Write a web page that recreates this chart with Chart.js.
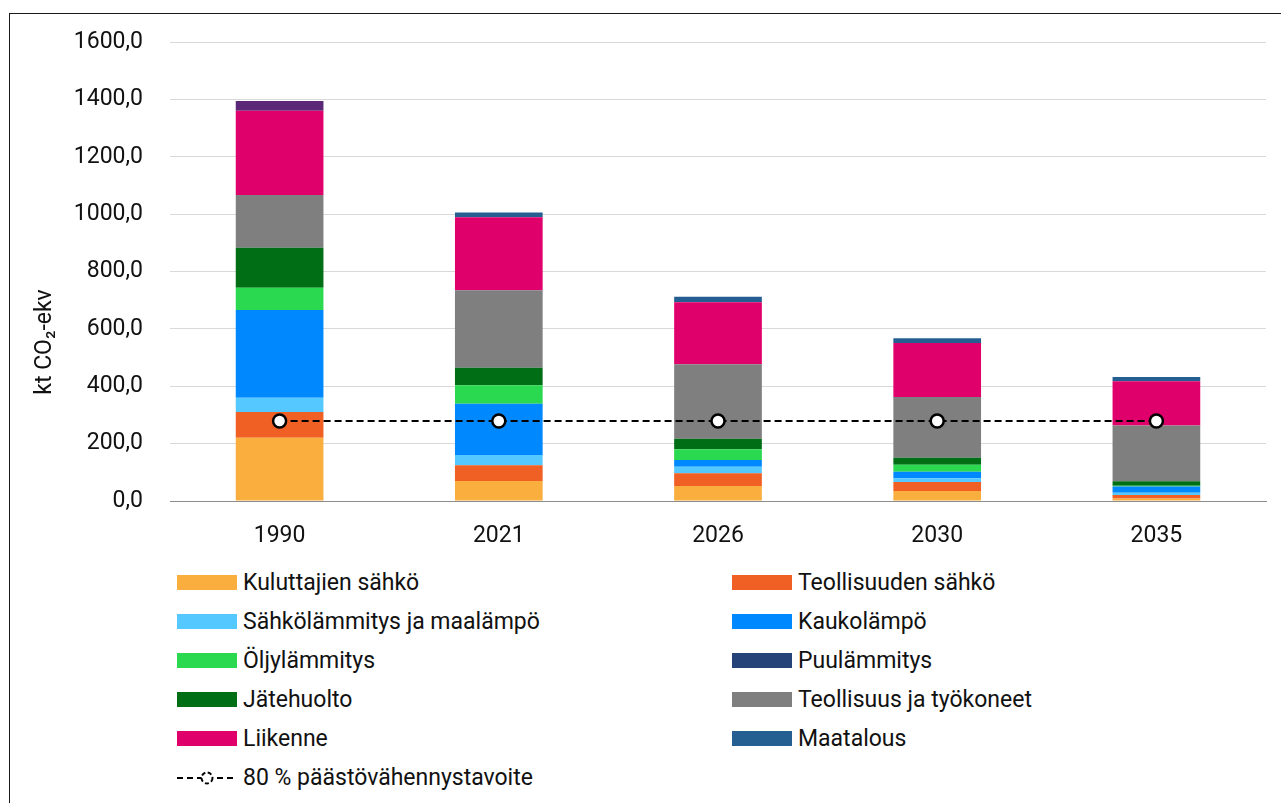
<!DOCTYPE html>
<html lang="fi">
<head>
<meta charset="utf-8">
<title>Päästöt</title>
<script src="https://cdn.jsdelivr.net/npm/chart.js@4/dist/chart.umd.min.js"></script>
<style>
  html, body { margin: 0; padding: 0; background: #fff; overflow: hidden; }
  body { width: 1281px; height: 803px; position: relative; font-family: Roboto, sans-serif; }
  .frame { position: absolute; left: 9px; top: 13px; width: 1300px; height: 900px; border: 1px solid #1a1a1a; }
  .chart-box { position: absolute; left: 10px; top: 14px; width: 1270px; height: 538px; }
  #legend { position: absolute; left: 177px; top: 563px; display: grid; grid-template-columns: 555px 500px; }
  .item { display: flex; align-items: center; height: 39px; font-size: 23px; color: #111; white-space: nowrap; }
  .swatch { width: 60px; height: 15px; margin-right: 6px; flex: none; }
  .item svg { margin-right: 6px; flex: none; }
</style>
</head>
<body>
<div class="frame"></div>
<div class="chart-box"><canvas id="emissions"></canvas></div>
<div id="legend"></div>
<script>
// Categories and series (kt CO2-ekv)
const categories = ['1990', '2021', '2026', '2030', '2035'];

const kuluttajienSahko  = [220.6,  69.7,  52.3,  34.9,   9.0];
const teollisuudenSahko = [ 89.6,  54.7,  44.3,  31.4,  11.5];
const sahkolammitys     = [ 49.8,  35.9,  23.0,  12.9,   8.0];
const kaukolampo        = [305.7, 178.8,  23.4,  23.0,  22.3];
const oljylammitys      = [ 77.7,  64.1,  37.3,  24.4,   2.0];
const puulammitys       = [  0.0,   0.0,   0.0,   0.0,   0.0];
const jatehuolto        = [139.4,  61.3,  36.9,  24.4,  16.0];
const teollisuus        = [183.7, 269.8, 259.3, 211.6, 194.1];
const liikenne          = [293.8, 254.4, 216.1, 188.2, 154.4];
const maatalous         = [ 33.8,  17.4,  19.5,  16.4,  15.3];
const tavoite           = [278.8, 278.8, 278.8, 278.8, 278.8];

const seriesNames = [
    'Kuluttajien sähkö', 'Teollisuuden sähkö', 'Sähkölämmitys ja maalämpö', 'Kaukolämpö',
    'Öljylämmitys', 'Puulämmitys', 'Jätehuolto', 'Teollisuus ja työkoneet', 'Liikenne', 'Maatalous'
];
const seriesData = [
    kuluttajienSahko, teollisuudenSahko, sahkolammitys, kaukolampo, oljylammitys,
    puulammitys, jatehuolto, teollisuus, liikenne, maatalous
];
const seriesColors = [
    '#F9AE3D', '#F05F24', '#55C8FF', '#0088FF', '#2AD94F',
    '#254379', '#006E14', '#7F7F7F', '#E0006B', '#255E91'
];
const targetName = '80 % päästövähennystavoite';
const yTitle = 'kt CO₂-ekv';
const yTicks = { min: 0, max: 1600, step: 200 };

const FONT = "Roboto, 'Noto Sans', sans-serif";
const textColor = '#111';

const datasets = seriesNames.map((name, i) => ({
    type: 'bar',
    label: name,
    data: seriesData[i],
    // 1990 agriculture bar is drawn in purple in the source
    backgroundColor: name === 'Maatalous'
        ? categories.map((c, j) => j === 0 ? '#5B2878' : seriesColors[i])
        : seriesColors[i],
    borderWidth: 0,
    barPercentage: 0.4,
    categoryPercentage: 1,
    order: 1
}));

datasets.push({
    type: 'line',
    label: targetName,
    data: tavoite,
    borderColor: '#000',
    borderWidth: 2,
    borderDash: [7, 4],
    pointRadius: 6.5,
    pointBackgroundColor: '#fff',
    pointBorderColor: '#000',
    pointBorderWidth: 2.5,
    fill: false,
    stack: 'target',
    order: 0
});

// Axis title sits lower than the plot centre in the source, so draw it by hand
const yTitlePlugin = {
    id: 'yTitle',
    afterDraw(chart) {
        const ctx = chart.ctx;
        ctx.save();
        ctx.translate(35, 328);
        ctx.rotate(-Math.PI / 2);
        ctx.font = '23px ' + FONT;
        ctx.fillStyle = textColor;
        ctx.textAlign = 'center';
        ctx.textBaseline = 'middle';
        ctx.fillText(yTitle, 0, 0);
        ctx.restore();
    }
};

const chart = new Chart(document.getElementById('emissions'), {
    data: { labels: categories, datasets: datasets },
    plugins: [yTitlePlugin],
    options: {
        responsive: true,
        maintainAspectRatio: false,
        animation: false,
        layout: { padding: { left: 0, right: 14, top: 28, bottom: 0 } },
        plugins: {
            legend: { display: false },
            tooltip: { enabled: false }
        },
        scales: {
            x: {
                stacked: true,
                grid: { display: false, drawTicks: false },
                border: { display: true, color: '#8c8c8c', width: 1 },
                ticks: { color: textColor, padding: 21, font: { family: FONT, size: 23 } },
                afterFit: (scale) => { scale.height = 51; }
            },
            y: {
                stacked: true,
                min: yTicks.min,
                max: yTicks.max,
                grid: {
                    drawTicks: false,
                    color: (ctx) => ctx.tick && ctx.tick.value === 0 ? '#8c8c8c' : '#d9d9d9',
                    lineWidth: 1
                },
                border: { display: false },
                ticks: {
                    stepSize: yTicks.step,
                    padding: 27,
                    color: textColor,
                    font: { family: FONT, size: 23 },
                    callback: (v) => v.toFixed(1).replace('.', ',')
                },
                afterFit: (scale) => {
                    scale.width = 160;
                    // let layout padding alone decide where the plot starts
                    scale.paddingTop = 0;
                    scale.paddingBottom = 0;
                }
            }
        }
    }
});

// HTML legend in two columns, built from the same arrays
const legendEl = document.getElementById('legend');
seriesNames.forEach((name, i) => {
    const item = document.createElement('div');
    item.className = 'item';
    const sw = document.createElement('span');
    sw.className = 'swatch';
    sw.style.background = seriesColors[i];
    item.appendChild(sw);
    item.appendChild(document.createTextNode(name));
    legendEl.appendChild(item);
});
const targetItem = document.createElement('div');
targetItem.className = 'item';
targetItem.innerHTML =
    '<svg width="60" height="16" viewBox="0 0 60 16">' +
    '<line x1="0" y1="8" x2="60" y2="8" stroke="#000" stroke-width="2" stroke-dasharray="6 4"/>' +
    '<circle cx="30" cy="8" r="5.5" fill="#fff" stroke="#000" stroke-width="2" stroke-dasharray="4 2.5"/>' +
    '</svg>';
targetItem.appendChild(document.createTextNode(targetName));
legendEl.appendChild(targetItem);
</script>
</body>
</html>
